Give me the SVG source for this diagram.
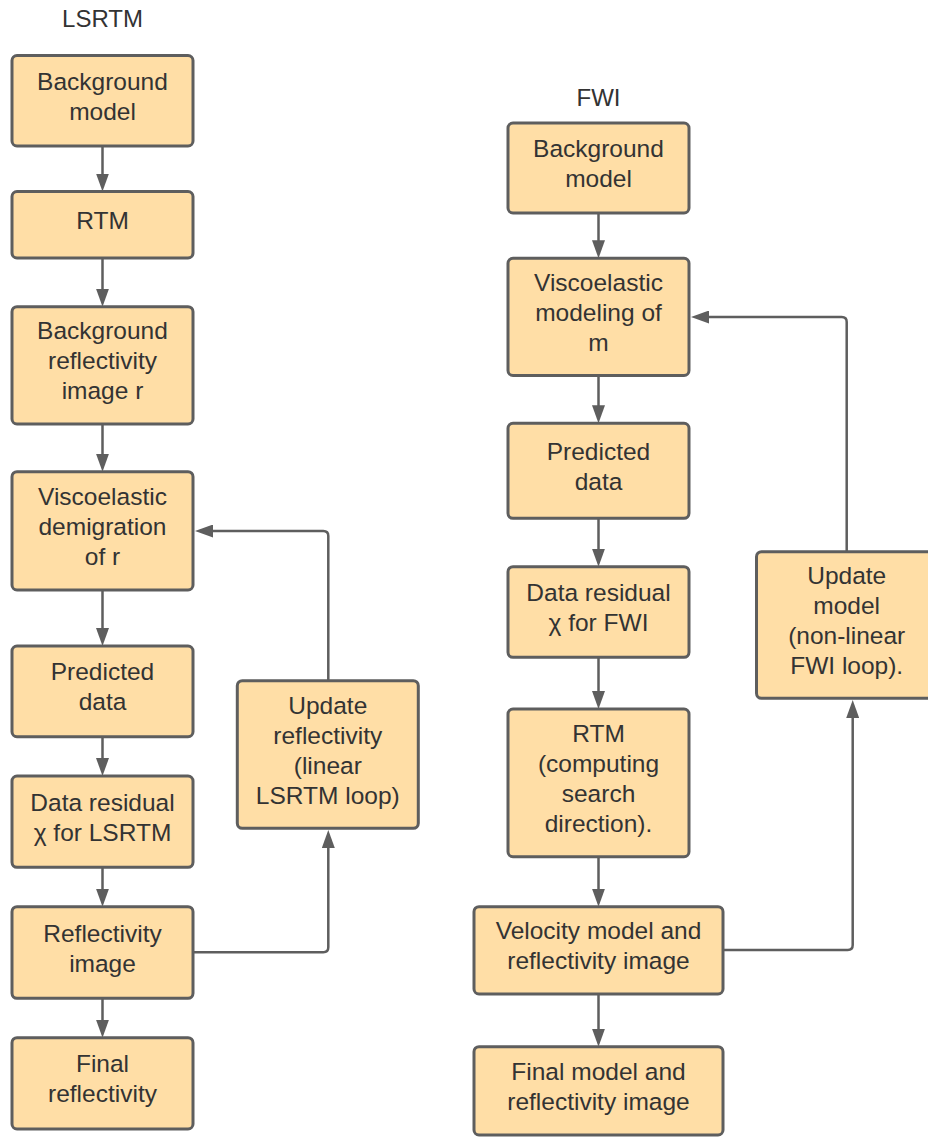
<svg xmlns="http://www.w3.org/2000/svg" width="928" height="1137" viewBox="0 0 928 1137">
<style>
.box{fill:#FFDEA6;stroke:#5E5E5E;stroke-width:3}
.t{font-family:"Liberation Sans",Arial,sans-serif;font-size:24.5px;fill:#333333;text-anchor:middle}
.title{font-family:"Liberation Sans",Arial,sans-serif;font-size:24px;fill:#333333;text-anchor:middle}
.c{fill:none;stroke:#5E5E5E;stroke-width:2.5;marker-end:url(#ah)}
.cn{fill:none;stroke:#5E5E5E;stroke-width:2.5}
</style>
<defs>
<marker id="ah" markerUnits="userSpaceOnUse" markerWidth="18" markerHeight="13" viewBox="0 0 18 13" refX="8" refY="6.5" orient="auto">
<path d="M0,0 L18,6.5 L0,13 Z" fill="#5E5E5E"/>
</marker>
</defs>
<rect width="928" height="1137" fill="#FFFFFF"/>
<text class="title" x="102.5" y="27">LSRTM</text>
<text class="title" x="598.5" y="106">FWI</text>

<g id="connectors">
<path class="c" d="M102.5,146 V181.5"/>
<path class="c" d="M102.5,258 V296.7"/>
<path class="c" d="M102.5,424 V461.7"/>
<path class="c" d="M102.5,590 V636"/>
<path class="c" d="M102.5,736.7 V766"/>
<path class="c" d="M102.5,867.3 V896.7"/>
<path class="c" d="M102.5,998.3 V1027.7"/>
<path class="c" d="M193.3,952.3 H323.3 Q328.3,952.3 328.3,947.3 V840"/>
<path class="c" d="M328.3,680.7 V536 Q328.3,531 323.3,531 H205"/>

<path class="c" d="M598.5,213 V248.3"/>
<path class="c" d="M598.5,375.5 V413.3"/>
<path class="c" d="M598.5,518.3 V556.7"/>
<path class="c" d="M598.5,657.3 V699"/>
<path class="c" d="M598.5,856.7 V896.7"/>
<path class="c" d="M598.5,994 V1036.7"/>
<path class="c" d="M723.3,950 H847.7 Q852.7,950 852.7,945 V710"/>
<path class="c" d="M846.7,551.7 V322 Q846.7,317 841.7,317 H701"/>
</g>

<g id="l1"><rect class="box" x="12" y="55.5" width="181" height="90.5" rx="5"/>
<text class="t" x="102.5" y="89.75">Background</text><text class="t" x="102.5" y="119.75">model</text></g>
<g id="l2"><rect class="box" x="12" y="191.5" width="181" height="66.5" rx="5"/>
<text class="t" x="102.5" y="228.75">RTM</text></g>
<g id="l3"><rect class="box" x="12" y="306.7" width="181" height="117.3" rx="5"/>
<text class="t" x="102.5" y="339.35">Background</text><text class="t" x="102.5" y="369.35">reflectivity</text><text class="t" x="102.5" y="399.35">image r</text></g>
<g id="l4"><rect class="box" x="12" y="471.7" width="181" height="118.3" rx="5"/>
<text class="t" x="102.5" y="504.85">Viscoelastic</text><text class="t" x="102.5" y="534.85">demigration</text><text class="t" x="102.5" y="564.85">of r</text></g>
<g id="l5"><rect class="box" x="12" y="646" width="181" height="90.7" rx="5"/>
<text class="t" x="102.5" y="680.35">Predicted</text><text class="t" x="102.5" y="710.35">data</text></g>
<g id="l6"><rect class="box" x="12" y="776" width="181" height="91.3" rx="5"/>
<text class="t" x="102.5" y="810.65">Data residual</text><text class="t" x="102.5" y="840.65">χ for LSRTM</text></g>
<g id="l7"><rect class="box" x="12" y="906.7" width="181" height="91.6" rx="5"/>
<text class="t" x="102.5" y="941.5">Reflectivity</text><text class="t" x="102.5" y="971.5">image</text></g>
<g id="l8"><rect class="box" x="12" y="1037.7" width="181" height="91.3" rx="5"/>
<text class="t" x="102.5" y="1072.35">Final</text><text class="t" x="102.5" y="1102.35">reflectivity</text></g>
<g id="lu"><rect class="box" x="237.3" y="680.7" width="181" height="147.6" rx="5"/>
<text class="t" x="327.8" y="713.5">Update</text><text class="t" x="327.8" y="743.5">reflectivity</text><text class="t" x="327.8" y="773.5">(linear</text><text class="t" x="327.8" y="803.5">LSRTM loop)</text></g>

<g id="r1"><rect class="box" x="508" y="123" width="181" height="90" rx="5"/>
<text class="t" x="598.5" y="157">Background</text><text class="t" x="598.5" y="187">model</text></g>
<g id="r2"><rect class="box" x="508" y="258.3" width="181" height="117.2" rx="5"/>
<text class="t" x="598.5" y="290.9">Viscoelastic</text><text class="t" x="598.5" y="320.9">modeling of</text><text class="t" x="598.5" y="350.9">m</text></g>
<g id="r3"><rect class="box" x="508" y="423.3" width="181" height="95" rx="5"/>
<text class="t" x="598.5" y="459.8">Predicted</text><text class="t" x="598.5" y="489.8">data</text></g>
<g id="r4"><rect class="box" x="508" y="566.7" width="181" height="90.6" rx="5"/>
<text class="t" x="598.5" y="601">Data residual</text><text class="t" x="598.5" y="631">χ for FWI</text></g>
<g id="r5"><rect class="box" x="508" y="709" width="181" height="147.7" rx="5"/>
<text class="t" x="598.5" y="741.85">RTM</text><text class="t" x="598.5" y="771.85">(computing</text><text class="t" x="598.5" y="801.85">search</text><text class="t" x="598.5" y="831.85">direction).</text></g>
<g id="r6"><rect class="box" x="474" y="906.7" width="249" height="87.3" rx="5"/>
<text class="t" x="598.5" y="939.35">Velocity model and</text><text class="t" x="598.5" y="969.35">reflectivity image</text></g>
<g id="r7"><rect class="box" x="474" y="1046.7" width="249" height="88.3" rx="5"/>
<text class="t" x="598.5" y="1079.85">Final model and</text><text class="t" x="598.5" y="1109.85">reflectivity image</text></g>
<g id="ru"><rect class="box" x="756.5" y="551.7" width="181" height="146.6" rx="5"/>
<text class="t" x="846.7" y="584">Update</text><text class="t" x="846.7" y="614">model</text><text class="t" x="846.7" y="644">(non-linear</text><text class="t" x="846.7" y="674">FWI loop).</text></g>
</svg>
